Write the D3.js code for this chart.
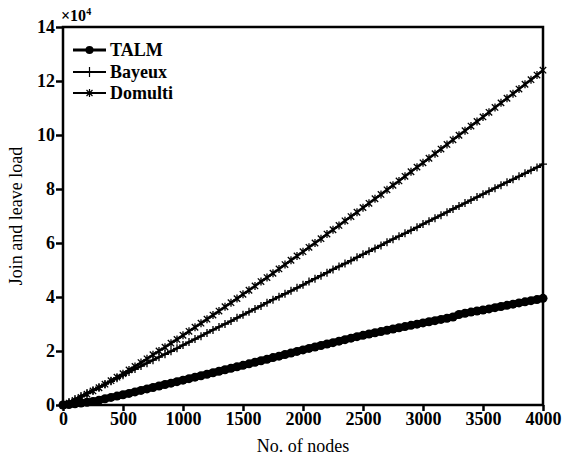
<!DOCTYPE html>
<html>
<head>
<meta charset="utf-8">
<script src="https://cdn.jsdelivr.net/npm/d3@7"></script>
<style>
  html, body { margin: 0; padding: 0; background: #fff; }
</style>
</head>
<body>
<div id="chart"></div>
<script>
// ====================
// Data (step of 50 nodes)
// ====================
const nodes = d3.range(0, 4001, 50);

const talm = [
  0, 200, 450, 700, 1000, 1300, 1800, 2300, 2800, 3300,
  3800, 4300, 4850, 5400, 5950, 6500, 7050, 7600, 8100, 8650,
  9200, 9750, 10300, 10850, 11400, 11950, 12500, 13050, 13600, 14150,
  14700, 15250, 15850, 16400, 16950, 17550, 18100, 18700, 19250, 19850,
  20400, 20950, 21500, 22050, 22600, 23100, 23650, 24200, 24750, 25300,
  25800, 26300, 26750, 27200, 27700, 28150, 28600, 29050, 29500, 29950,
  30400, 30850, 31250, 31700, 32150, 32600, 33500, 34000, 34400, 34800,
  35200, 35600, 36050, 36500, 36900, 37350, 37800, 38200, 38650, 39050,
  39500
];

const bayeux = [
  0, 1100, 2200, 3300, 4400, 5500, 6600, 7700, 8800, 9900,
  11000, 12200, 13300, 14400, 15500, 16600, 17700, 18800, 19900, 21000,
  22200, 23300, 24400, 25500, 26700, 27800, 28900, 30000, 31100, 32300,
  33400, 34500, 35600, 36700, 37900, 39000, 40100, 41200, 42300, 43400,
  44500, 45700, 46800, 47900, 49000, 50200, 51300, 52400, 53500, 54700,
  55800, 56900, 58000, 59100, 60300, 61400, 62500, 63600, 64700, 65800,
  67000, 68100, 69200, 70300, 71400, 72600, 73700, 74800, 75900, 77000,
  78100, 79200, 80300, 81400, 82500, 83600, 84700, 85800, 86900, 88000,
  89200
];

const domulti = [
  0, 700, 1700, 2800, 4000, 5200, 6400, 7700, 9000, 10300,
  11600, 13000, 14300, 15700, 17100, 18600, 20000, 21400, 22900, 24300,
  25800, 27300, 28800, 30300, 31800, 33300, 34800, 36400, 37900, 39400,
  41000, 42500, 44100, 45700, 47200, 48800, 50400, 52000, 53600, 55200,
  56800, 58400, 60000, 61600, 63300, 64900, 66500, 68200, 69800, 71400,
  73100, 74700, 76400, 78000, 79700, 81400, 83000, 84700, 86400, 88100,
  89700, 91400, 93100, 94800, 96500, 98200, 99900, 101600, 103300, 105000,
  106700, 108400, 110200, 111900, 113600, 115300, 117000, 118800, 120500, 122200,
  124000
];

const seriesNames = ["TALM", "Bayeux", "Domulti"];
const xTicks = [0, 500, 1000, 1500, 2000, 2500, 3000, 3500, 4000];
const yTicks = [0, 2, 4, 6, 8, 10, 12, 14];   // in units of 10^4

const FONT = "'Liberation Serif', 'Times New Roman', Tinos, Times, 'Nimbus Roman', 'FreeSerif', 'Noto Serif', 'DejaVu Serif', serif";

// ====================
// Chart
// ====================
const width = 563, height = 458;

const svg = d3.select("#chart")
  .append("svg")
  .attr("width", width)
  .attr("height", height)
  .style("font-family", FONT);

const x = d3.scaleLinear()
  .domain([0, 4000])
  .range([63, 543]);

const y = d3.scaleLinear()
  .domain([0, 14])
  .range([405, 27]);

// Frame
svg.append("rect")
  .attr("x", x(0))
  .attr("y", y(14))
  .attr("width", x(4000) - x(0))
  .attr("height", y(0) - y(14))
  .attr("fill", "none")
  .attr("stroke", "#000")
  .attr("stroke-width", 2.5);

// Axes
const xAxis = svg.append("g")
  .attr("transform", `translate(0, ${y(0)})`)
  .call(d3.axisBottom(x).tickValues(xTicks).tickFormat(d3.format("d")).tickSize(6).tickPadding(1));

const yAxis = svg.append("g")
  .attr("transform", `translate(${x(0)}, 0)`)
  .call(d3.axisLeft(y).tickValues(yTicks).tickFormat(d3.format("d")).tickSize(7).tickPadding(1));

[xAxis, yAxis].forEach(g => {
  g.attr("font-family", null).attr("font-size", null)
    .style("font-family", FONT).style("font-size", "18px");
  g.select(".domain").remove();
  g.selectAll(".tick line").attr("stroke", "#000").attr("stroke-width", 2.5);
  g.selectAll(".tick text")
    .attr("fill", "#000")
    .style("font-weight", "bold");
});

// exponent label
const expo = svg.append("text")
  .attr("x", 61)
  .attr("y", 21)
  .style("font-size", "16px")
  .style("font-weight", "bold");
expo.append("tspan").text("\u00d710");
expo.append("tspan").attr("dy", -6).style("font-size", "10px").text("4");

// Axis titles
svg.append("text")
  .attr("x", (x(0) + x(4000)) / 2)
  .attr("y", 452)
  .attr("text-anchor", "middle")
  .style("font-size", "18px")
  .text("No. of nodes");

svg.append("text")
  .attr("transform", `translate(22, ${(y(0) + y(14)) / 2}) rotate(-90)`)
  .attr("text-anchor", "middle")
  .style("font-size", "18px")
  .text("Join and leave load");

// ====================
// Series
// ====================
const toPts = vals => vals.map((v, i) => [nodes[i], v / 10000]);

const line = d3.line()
  .x(d => x(d[0]))
  .y(d => y(d[1]));

function drawPlus(g, pts, s) {
  g.selectAll("path.m")
    .data(pts)
    .join("path")
    .attr("class", "m")
    .attr("d", d => {
      const cx = x(d[0]), cy = y(d[1]);
      return `M${cx},${cy - s}V${cy + s}M${cx - s},${cy}H${cx + s}`;
    })
    .attr("stroke", "#000")
    .attr("stroke-width", 1.3)
    .attr("fill", "none");
}

function drawStar(g, pts, s) {
  g.selectAll("path.m")
    .data(pts)
    .join("path")
    .attr("class", "m")
    .attr("d", d => {
      const cx = x(d[0]), cy = y(d[1]);
      const k = s * 0.8;
      return `M${cx},${cy - s}V${cy + s}` +
             `M${cx - k},${cy - k}L${cx + k},${cy + k}` +
             `M${cx - k},${cy + k}L${cx + k},${cy - k}`;
    })
    .attr("stroke", "#000")
    .attr("stroke-width", 1.3)
    .attr("fill", "none");
}

const plot = svg.append("g");

// Domulti
const gD = plot.append("g");
gD.append("path")
  .datum(toPts(domulti))
  .attr("d", line)
  .attr("fill", "none")
  .attr("stroke", "#000")
  .attr("stroke-width", 2.5);
drawStar(gD, toPts(domulti), 4);

// Bayeux
const gB = plot.append("g");
gB.append("path")
  .datum(toPts(bayeux))
  .attr("d", line)
  .attr("fill", "none")
  .attr("stroke", "#000")
  .attr("stroke-width", 2.5);
drawPlus(gB, toPts(bayeux), 4);

// TALM
const gT = plot.append("g");
gT.append("path")
  .datum(toPts(talm))
  .attr("d", line)
  .attr("fill", "none")
  .attr("stroke", "#000")
  .attr("stroke-width", 7);
gT.selectAll("circle")
  .data(toPts(talm))
  .join("circle")
  .attr("cx", d => x(d[0]))
  .attr("cy", d => y(d[1]))
  .attr("r", 4.5)
  .attr("fill", "#000");

// ====================
// Legend
// ====================
const legend = svg.append("g");
const legY = [50, 72, 93];

seriesNames.forEach((name, i) => {
  const ly = legY[i];
  legend.append("line")
    .attr("x1", 73).attr("x2", 106)
    .attr("y1", ly).attr("y2", ly)
    .attr("stroke", "#000")
    .attr("stroke-width", i === 0 ? 3 : 2);

  const cx = 89.5;
  if (i === 0) {
    legend.append("circle").attr("cx", cx).attr("cy", ly).attr("r", 4).attr("fill", "#000");
  } else if (i === 1) {
    legend.append("path")
      .attr("d", `M${cx},${ly - 5}V${ly + 5}`)
      .attr("stroke", "#000").attr("stroke-width", 1.2);
  } else {
    legend.append("path")
      .attr("d", `M${cx},${ly - 4}V${ly + 4}M${cx - 3},${ly - 3}L${cx + 3},${ly + 3}M${cx - 3},${ly + 3}L${cx + 3},${ly - 3}`)
      .attr("stroke", "#000").attr("stroke-width", 1.2);
  }

  legend.append("text")
    .attr("x", 110)
    .attr("y", ly + 6)
    .style("font-size", "18px")
    .style("font-weight", "bold")
    .text(name);
});
</script>
</body>
</html>
